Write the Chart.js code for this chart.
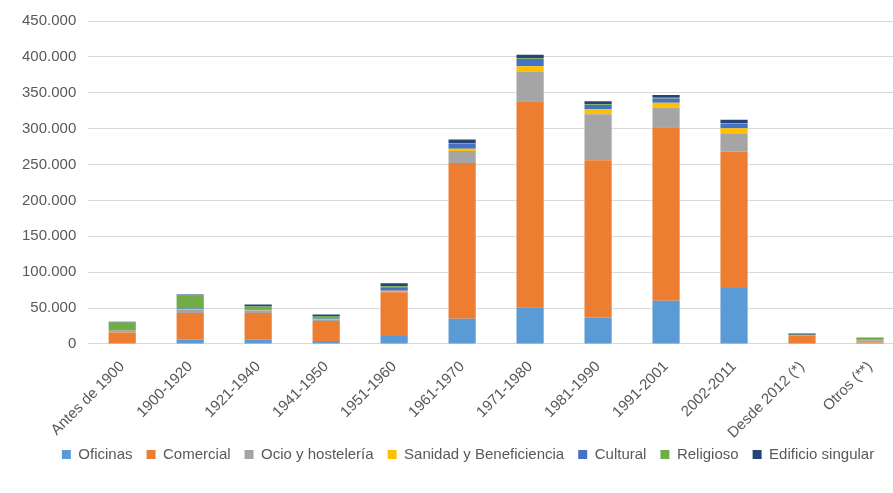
<!DOCTYPE html>
<html>
<head>
<meta charset="utf-8">
<script src="https://cdn.jsdelivr.net/npm/chart.js@4/dist/chart.umd.min.js"></script>
<style>
  html, body { margin: 0; padding: 0; background: #ffffff; overflow: hidden; }
  #wrap { position: relative; width: 932px; height: 493px; }
</style>
</head>
<body>
<div id="wrap"><canvas id="c"></canvas></div>
<script>
const categories = ['Antes de 1900','1900-1920','1921-1940','1941-1950','1951-1960','1961-1970','1971-1980','1981-1990','1991-2001','2002-2011','Desde 2012 (*)','Otros (**)'];
const oficinas  = [1000, 6000, 6000, 4000, 11000, 35000, 51000, 37000, 60000, 78000, 500, 500];
const comercial = [15000, 37000, 37000, 28000, 61000, 217000, 287000, 219000, 242000, 190000, 10500, 1500];
const ocio      = [2000, 5000, 3500, 2000, 1500, 17000, 41000, 64000, 27000, 24500, 500, 3000];
const sanidad   = [500, 500, 500, 500, 500, 3000, 8000, 7000, 7000, 8000, 200, 500];
const cultural  = [500, 1000, 1000, 1000, 5000, 7000, 10000, 6000, 6000, 6000, 800, 500];
const religioso = [11000, 18000, 4000, 3500, 1500, 1000, 1000, 1000, 1000, 1000, 200, 2500];
const edificio  = [1000, 1500, 3000, 2000, 4000, 5000, 5000, 4000, 4000, 5000, 1800, 500];
const seriesNames = ['Oficinas','Comercial','Ocio y hostelería','Sanidad y Beneficiencia','Cultural','Religioso','Edificio singular'];
const yMax = 450000;
const yStep = 50000;

const colors = ['#5B9BD5','#ED7D31','#A5A5A5','#FFC000','#4472C4','#70AD47','#264478'];
const values = [oficinas, comercial, ocio, sanidad, cultural, religioso, edificio];

function fmt(v) {
  return String(v).replace(/\B(?=(\d{3})+(?!\d))/g, '.');
}

const FONT = "'Liberation Sans', Arial, sans-serif";
const TXT = '#595959';

new Chart(document.getElementById('c'), {
  type: 'bar',
  data: {
    labels: categories,
    datasets: seriesNames.map((n, i) => ({
      label: n,
      data: values[i],
      backgroundColor: colors[i],
      borderWidth: 0,
      categoryPercentage: 1.0,
      barPercentage: 0.4
    }))
  },
  options: {
    responsive: true,
    maintainAspectRatio: false,
    animation: false,
    layout: { padding: { left: 10, right: 6, top: 4, bottom: 21 } },
    plugins: {
      legend: {
        position: 'bottom',
        labels: {
          boxWidth: 9, boxHeight: 9, padding: 14,
          color: TXT,
          font: { family: FONT, size: 15 }
        }
      },
      tooltip: { enabled: false }
    },
    scales: {
      x: {
        stacked: true,
        grid: { display: false, drawTicks: false },
        border: { display: true, color: '#D9D9D9', width: 1 },
        ticks: {
          color: TXT,
          font: { family: FONT, size: 15 },
          minRotation: 45, maxRotation: 45,
          autoSkip: false,
          padding: 14
        },
        afterFit: (s) => {
          s.height -= 23;
          s._computeLabelArea = () => undefined;
        }
      },
      y: {
        stacked: true,
        min: 0, max: yMax,
        grid: { color: '#D9D9D9', lineWidth: 1, drawTicks: false },
        border: { display: false },
        ticks: {
          stepSize: yStep,
          color: TXT,
          font: { family: FONT, size: 15 },
          padding: 12,
          callback: (v) => fmt(v)
        }
      },
      yR: {
        type: 'linear',
        position: 'right',
        display: true,
        grid: { display: false, drawOnChartArea: false, drawTicks: false },
        border: { display: false },
        ticks: { display: false },
        afterFit: (s) => { s.width = 22; }
      }
    }
  }
});
</script>
</body>
</html>
